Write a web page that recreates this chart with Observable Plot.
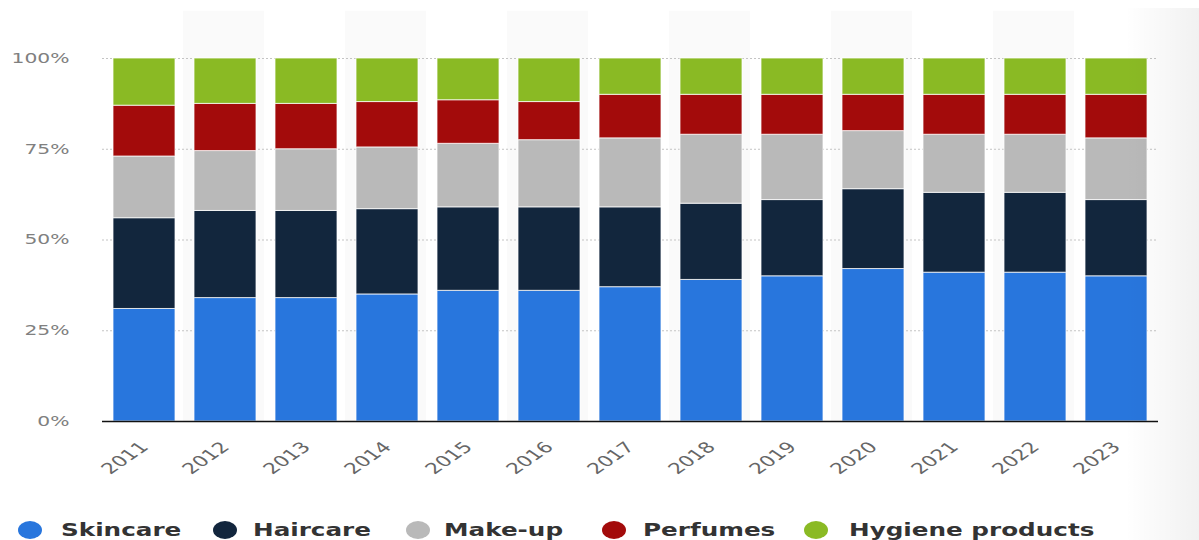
<!DOCTYPE html>
<html><head><meta charset="utf-8">
<script src="https://cdn.jsdelivr.net/npm/d3@7"></script>
<script src="https://cdn.jsdelivr.net/npm/@observablehq/plot@0.6"></script>
<style>
body{margin:0;background:#fff;width:1199px;height:540px;overflow:hidden;position:relative;font-family:"DejaVu Sans",sans-serif;}
#chart{position:absolute;left:0;top:0;}
#shadow{position:absolute;left:1125px;top:8px;width:74px;height:532px;background:linear-gradient(to right, rgba(0,0,0,0), rgba(0,0,0,0.055));pointer-events:none}
#legend{position:absolute;left:0;top:0;width:1199px;height:540px;pointer-events:none}
.dot{position:absolute;width:24px;height:18px;border-radius:50%}
.lab{position:absolute;font-weight:bold;font-size:17px;color:#333;transform:scaleX(1.45);transform-origin:0 50%;white-space:nowrap;line-height:20px}
</style></head><body>
<div id="chart"></div><div id="shadow"></div><div id="legend"></div>
<script>
const years = ["2011","2012","2013","2014","2015","2016","2017","2018","2019","2020","2021","2022","2023"];
const categories = ["Skincare","Haircare","Make-up","Perfumes","Hygiene products"];
const colors = ["#2876dd","#12263d","#b9b9b9","#a30b0b","#8aba24"];
const skincare = [31,34,34,35,36,36,37,39,40,42,41,41,40];
const haircare = [25,24,24,23.5,23,23,22,21,21,22,22,22,21];
const makeup   = [17,16.5,17,17,17.5,18.5,19,19,18,16,16,16,17];
const perfumes = [14,13,12.5,12.5,12,10.5,12,11,11,10,11,11,12];
const hygiene  = [13,12.5,12.5,12,11.5,12,10,10,10,10,10,10,10];
const yTicks = [0,25,50,75,100];
const legendDotX = [18,213,406,602,804];
const legendTextX = [61,253,444,643,849];

const series = [skincare, haircare, makeup, perfumes, hygiene];
const rows = [];
years.forEach((yr,i)=>categories.forEach((c,j)=>rows.push({year:yr, category:c, value:series[j][i]})));
const shade = years.filter((d,i)=>i%2===1);

const plot = Plot.plot({
  width:1199, height:500,
  marginTop:58, marginBottom:79, marginLeft:102, marginRight:41,
  style:{fontFamily:"DejaVu Sans, sans-serif", background:"transparent", overflow:"visible"},
  x:{domain:years, paddingInner:0.24, paddingOuter:0.12, label:null},
  y:{domain:[0,100], label:null},
  color:{domain:categories, range:colors},
  marks:[
    Plot.barY(shade,{x:d=>d, y1:0, y2:113, fill:"#fafafa", insetLeft:-11, insetRight:-8}),
    Plot.gridY(yTicks,{stroke:"#c4c4c4", strokeOpacity:1, strokeDasharray:"2,2"}),
    Plot.barY(rows,{x:"year", y:"value", fill:"category", stroke:"#fff", strokeWidth:1, strokeOpacity:0.75}),
    Plot.ruleY([0],{stroke:"#111", strokeWidth:1.5}),
    Plot.axisY(yTicks,{tickSize:0, tickPadding:33, tickFormat:d=>d+"%", fill:"#808080", fontSize:14, label:null}),
    Plot.axisX({tickSize:0, tickRotate:-45, tickPadding:23, fill:"#666", fontSize:15, label:null})
  ]
});

const sx = 1.45;
plot.querySelectorAll('g[aria-label="x-axis tick label"] text, g[aria-label="y-axis tick label"] text').forEach(t=>{
  const tr = t.getAttribute("transform");
  if (tr && /^translate\([^)]*\)/.test(tr)) {
    t.setAttribute("transform", tr.replace(/^(translate\([^)]*\))/, `$1 scale(${sx},1)`));
  } else {
    const x = +t.getAttribute("x")||0, y = +t.getAttribute("y")||0;
    t.setAttribute("transform", `${tr||""} translate(${x},${y}) scale(${sx},1) translate(${-x},${-y})`);
  }
});
document.getElementById("chart").append(plot);

const lg = document.getElementById("legend");
categories.forEach((c,i)=>{
  const d = document.createElement("div");
  d.className="dot"; d.style.left=legendDotX[i]+"px"; d.style.top="521px"; d.style.background=colors[i];
  const t = document.createElement("div");
  t.className="lab"; t.style.left=legendTextX[i]+"px"; t.style.top="520px"; t.textContent=c;
  lg.append(d,t);
});
</script>
</body></html>
